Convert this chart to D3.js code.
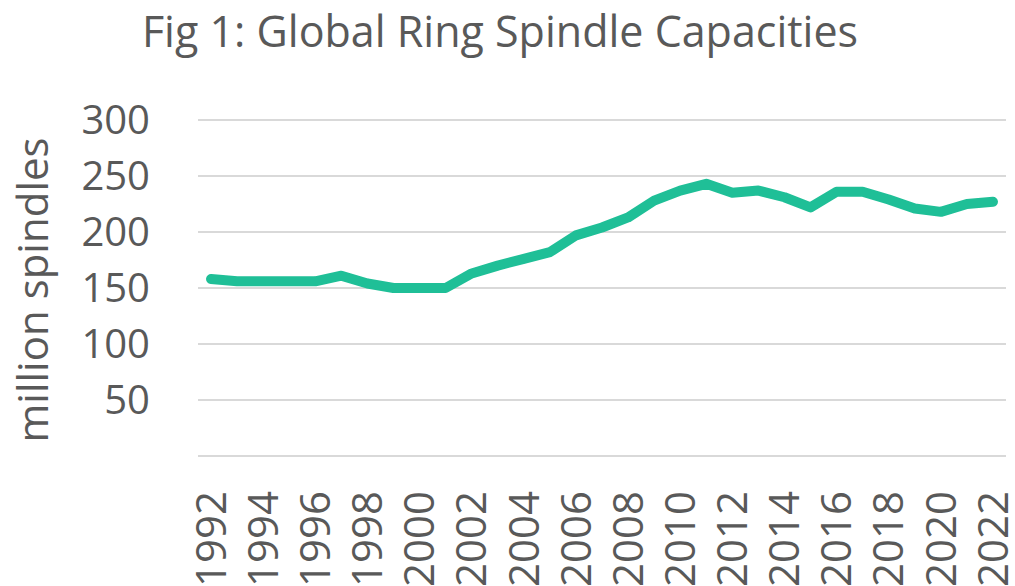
<!DOCTYPE html>
<meta charset="utf-8">
<style>
body { margin: 0; background: #fff; }
text { font-family: "Open Sans", sans-serif; fill: #595959; }
.grid line { stroke: #d9d9d9; stroke-width: 2px; }
.series { fill: none; stroke: #1fbf97; stroke-width: 10px; stroke-linejoin: round; stroke-linecap: round; }
</style>
<body>
<script src="https://cdn.jsdelivr.net/npm/d3@7/dist/d3.min.js"></script>
<script>

var width = 1015,
    height = 586;

// chart data
var years = d3.range(1992, 2023);
var spindles = [158, 156, 156, 156, 156, 161, 154, 150, 150, 150,
                163, 170, 176, 182, 197, 204, 213, 228, 237, 243,
                235, 237, 231, 222, 236, 236, 229, 221, 218, 225, 227];
var yTicks = [50, 100, 150, 200, 250, 300];
var yGrid = [0, 50, 100, 150, 200, 250, 300];
var xTickYears = years.filter(function(d) { return d % 2 === 0; });

var margin = {top: 120, right: 9, bottom: 130, left: 198};

var x = d3.scaleBand()
    .domain(years)
    .range([margin.left, width - margin.right]);

var y = d3.scaleLinear()
    .domain([0, 300])
    .range([height - margin.bottom, margin.top]);

var svg = d3.select("body").append("svg")
    .attr("width", width)
    .attr("height", height);

// title
svg.append("text")
    .attr("x", 500)
    .attr("y", 47)
    .attr("text-anchor", "middle")
    .style("font-size", "43px")
    .text("Fig 1: Global Ring Spindle Capacities");

// gridlines
svg.append("g")
    .attr("class", "grid")
  .selectAll("line")
  .data(yGrid)
  .enter().append("line")
    .attr("x1", margin.left)
    .attr("x2", width - margin.right)
    .attr("y1", function(d) { return y(d); })
    .attr("y2", function(d) { return y(d); });

// y tick labels
svg.append("g")
  .selectAll("text")
  .data(yTicks)
  .enter().append("text")
    .attr("x", 150)
    .attr("y", function(d) { return y(d); })
    .attr("dy", "0.35em")
    .attr("text-anchor", "end")
    .style("font-size", "40px")
    .text(function(d) { return d; });

// y axis title
svg.append("text")
    .attr("transform", "translate(48,290) rotate(-90)")
    .attr("text-anchor", "middle")
    .style("font-size", "42px")
    .text("million spindles");

// x tick labels
svg.append("g")
  .selectAll("text")
  .data(xTickYears)
  .enter().append("text")
    .attr("transform", function(d) {
      return "translate(" + (x(d) + x.bandwidth() / 2) + ",491) rotate(-90)";
    })
    .attr("dy", "0.35em")
    .attr("text-anchor", "end")
    .style("font-size", "42px")
    .text(function(d) { return d; });

// line
var line = d3.line()
    .x(function(d, i) { return x(years[i]) + x.bandwidth() / 2; })
    .y(function(d) { return y(d); });

svg.append("path")
    .datum(spindles)
    .attr("class", "series")
    .attr("d", line);

</script>
